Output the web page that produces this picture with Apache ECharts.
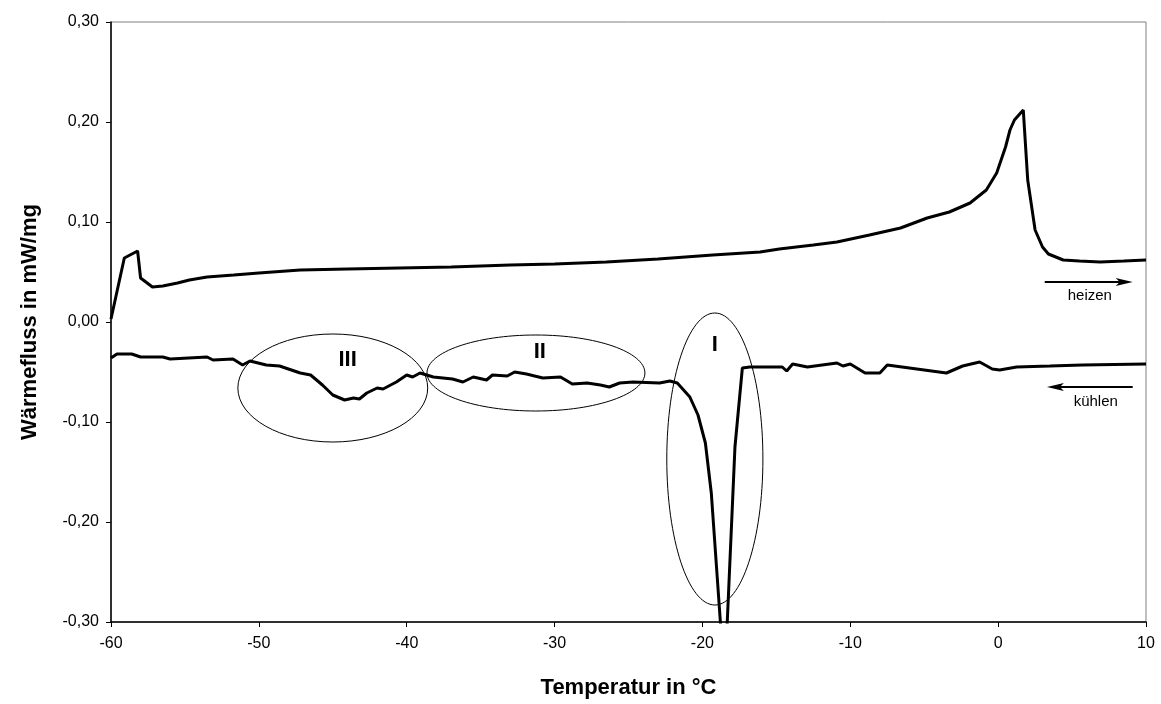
<!DOCTYPE html>
<html>
<head>
<meta charset="utf-8">
<script src="https://cdn.jsdelivr.net/npm/echarts@6/dist/echarts.min.js"></script>
<style>
  html, body { margin: 0; background: #fff; }
  #chart { width: 1161px; height: 704px; }
</style>
</head>
<body>
<div id="chart"></div>
<script>
// Heizkurve (oben)
var heatT = [-60, -59.1, -58.2, -58.0, -57.2, -56.5, -55.5, -54.7, -53.5, -51.7, -50, -47.2, -44, -40.5, -37, -33, -30, -26.5, -23, -19.3,
  -16.1, -14.8, -12.5, -10.9, -8.7, -6.6, -4.8, -3.3, -1.9, -0.8, -0.1, 0.5, 0.8, 1.1, 1.7, 2.0, 2.5, 3.0, 3.4, 4.4, 5.5, 6.9, 8.5, 10];
var heatW = [0.003, 0.064, 0.071, 0.044, 0.035, 0.036, 0.039, 0.042, 0.045, 0.047, 0.049, 0.052, 0.053, 0.054, 0.055, 0.057, 0.058, 0.060, 0.063, 0.067,
  0.070, 0.073, 0.077, 0.080, 0.087, 0.094, 0.104, 0.110, 0.119, 0.132, 0.149, 0.175, 0.192, 0.202, 0.212, 0.142, 0.092, 0.075, 0.068, 0.062, 0.061, 0.060, 0.061, 0.062];

// Kuehlkurve (unten)
var coolT = [-60, -59.6, -58.6, -58.0, -56.5, -56.0, -53.5, -53.1, -51.75, -51.1, -50.6, -49.5, -48.6, -47.2, -46.5, -45.7, -45.0, -44.2, -43.6, -43.2,
  -42.7, -42.0, -41.6, -40.7, -40.0, -39.6, -39.1, -38.2, -36.9, -36.2, -35.5, -34.6, -34.2, -33.2, -32.7, -31.9, -30.8, -29.6, -28.8, -27.8,
  -26.9, -26.3, -25.6, -24.7, -22.9, -22.2, -21.7, -20.85, -20.3, -19.8, -19.4, -18.5, -17.8, -17.3, -16.8, -14.6, -14.3, -13.9, -12.9, -10.9,
  -10.5, -10.0, -9.0, -8.0, -7.5, -5.5, -3.5, -2.4, -1.25, -0.4, 0.1, 1.25, 3.5, 5.7, 10];
var coolW = [-0.036, -0.032, -0.032, -0.035, -0.035, -0.037, -0.035, -0.038, -0.037, -0.043, -0.039, -0.043, -0.044, -0.051, -0.053, -0.063, -0.073, -0.078, -0.076, -0.077,
  -0.071, -0.066, -0.067, -0.060, -0.053, -0.055, -0.051, -0.055, -0.057, -0.060, -0.055, -0.058, -0.053, -0.054, -0.050, -0.052, -0.056, -0.055, -0.062, -0.061,
  -0.063, -0.065, -0.061, -0.060, -0.061, -0.059, -0.061, -0.075, -0.093, -0.121, -0.171, -0.36, -0.125, -0.046, -0.045, -0.045, -0.049, -0.042, -0.045, -0.041,
  -0.044, -0.042, -0.051, -0.051, -0.043, -0.047, -0.051, -0.044, -0.040, -0.047, -0.048, -0.045, -0.044, -0.043, -0.042];

// Markierungen (Bereiche I, II, III) in Datenkoordinaten: [T, W, rx in °C, ry in mW/mg]
var regionNames = ["I", "II", "III"];
var regionEllipses = [[-19.16, -0.137, 3.25, 0.146], [-31.26, -0.051, 7.37, 0.038], [-45.0, -0.066, 6.42, 0.054]];
var regionLabelPos = [[-19.16, -0.023], [-31.0, -0.030], [-44.0, -0.038]];

var font = "Liberation Sans, Arial, sans-serif";

function pairs(t, w) {
  return t.map(function (v, i) { return [v, w[i]]; });
}
function fmtY(v) {
  if (Math.abs(v) < 1e-9) return "0,00";
  return v.toFixed(2).replace(".", ",");
}

var myChart = echarts.init(document.getElementById("chart"));

var option = {
  animation: false,
  backgroundColor: "#fff",
  grid: { left: 111, right: 15, top: 22, bottom: 82, show: true, borderColor: "#808080", borderWidth: 1 },
  xAxis: {
    type: "value",
    min: -60, max: 10, interval: 10,
    name: "Temperatur in °C",
    nameLocation: "middle",
    nameGap: 55,
    nameTextStyle: { fontFamily: font, fontWeight: "bold", fontSize: 22, color: "#000" },
    axisLine: { onZero: false, lineStyle: { color: "#000", width: 1.5 } },
    axisTick: { length: 5, lineStyle: { color: "#000" } },
    axisLabel: { color: "#000", fontSize: 16, fontFamily: font, margin: 14 },
    splitLine: { show: false }
  },
  yAxis: {
    type: "value",
    min: -0.3, max: 0.3, interval: 0.1,
    name: "Wärmefluss in mW/mg",
    nameLocation: "middle",
    nameGap: 70,
    nameTextStyle: { fontFamily: font, fontWeight: "bold", fontSize: 22, color: "#000" },
    axisLine: { onZero: false, lineStyle: { color: "#000", width: 1.5 } },
    axisTick: { show: true, length: 5, lineStyle: { color: "#000" } },
    axisLabel: { color: "#000", fontSize: 16, fontFamily: font, margin: 12, formatter: fmtY },
    splitLine: { show: false }
  },
  series: [
    {
      name: "heizen",
      type: "line",
      data: pairs(heatT, heatW),
      showSymbol: false,
      clip: true,
      lineStyle: { color: "#000", width: 3 }
    },
    {
      name: "kühlen",
      type: "line",
      data: pairs(coolT, coolW),
      showSymbol: false,
      clip: true,
      lineStyle: { color: "#000", width: 3 }
    }
  ]
};

myChart.setOption(option);

// Anmerkungen: Ellipsen, Beschriftungen, Pfeile
function px(t, w) {
  return myChart.convertToPixel({ gridIndex: 0 }, [t, w]);
}
function arrow(t1, t2, w) {
  var a = px(t1, w), b = px(t2, w);
  var dir = b[0] > a[0] ? 1 : -1;
  var tipX = b[0], y = b[1];
  return [
    { type: "line", shape: { x1: a[0], y1: y, x2: tipX - dir * 8, y2: y }, style: { stroke: "#000", lineWidth: 2 } },
    { type: "polygon", shape: { points: [[tipX, y], [tipX - dir * 17, y - 4], [tipX - dir * 13, y], [tipX - dir * 17, y + 4]] }, style: { fill: "#000" } }
  ];
}

var graphics = [];
regionEllipses.forEach(function (e, i) {
  var c = px(e[0], e[1]);
  var r = px(e[0] + e[2], e[1] + e[3]);
  graphics.push({
    type: "ellipse",
    shape: { cx: c[0], cy: c[1], rx: Math.abs(r[0] - c[0]), ry: Math.abs(r[1] - c[1]) },
    style: { fill: null, stroke: "#000", lineWidth: 1 },
    z: 10
  });
  var l = px(regionLabelPos[i][0], regionLabelPos[i][1]);
  graphics.push({
    type: "text", x: l[0], y: l[1],
    style: { text: regionNames[i], fontFamily: font, fontWeight: "bold", fontSize: 22, fill: "#000", align: "center", verticalAlign: "middle" },
    z: 11
  });
});

graphics = graphics.concat(arrow(3.15, 9.1, 0.040), arrow(9.1, 3.3, -0.065));
var h = px(6.2, 0.026), k = px(6.6, -0.080);
graphics.push({ type: "text", x: h[0], y: h[1], style: { text: "heizen", fontFamily: font, fontSize: 15, fill: "#000", align: "center", verticalAlign: "middle" } });
graphics.push({ type: "text", x: k[0], y: k[1], style: { text: "kühlen", fontFamily: font, fontSize: 15, fill: "#000", align: "center", verticalAlign: "middle" } });

myChart.setOption({ graphic: graphics });
</script>
</body>
</html>
